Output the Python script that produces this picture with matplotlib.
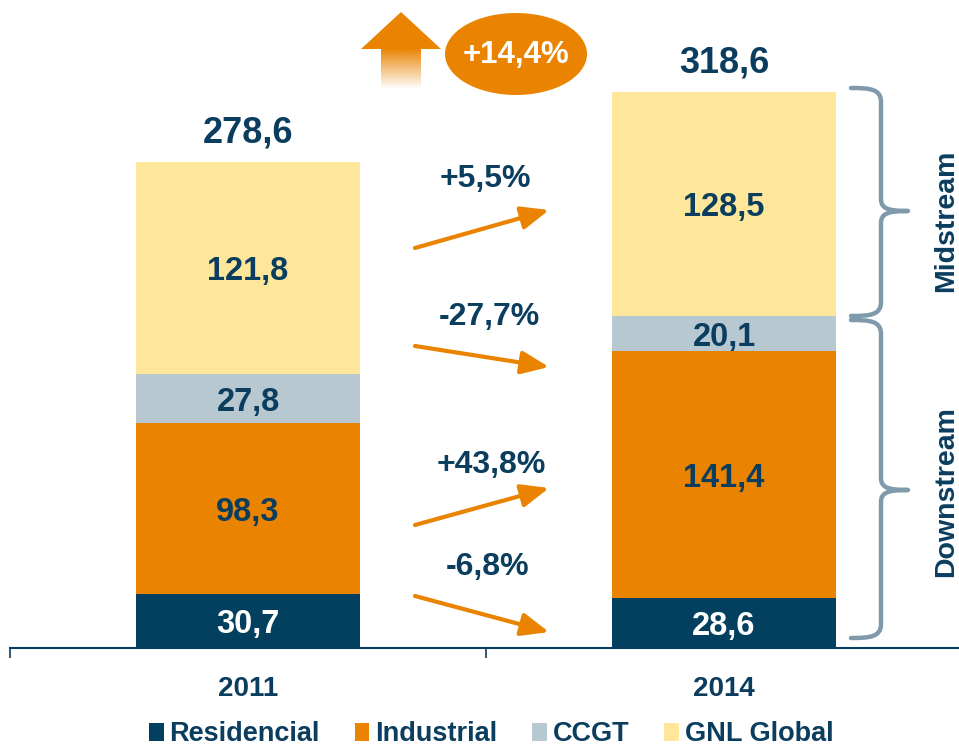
import numpy as np
import matplotlib
matplotlib.use("Agg")
import matplotlib.pyplot as plt
from matplotlib.patches import Ellipse, Polygon, PathPatch
from matplotlib.path import Path

# ---- data ----
years = ["2011", "2014"]
series_names = ["Residencial", "Industrial", "CCGT", "GNL Global"]
residencial = [30.7, 28.6]
industrial = [98.3, 141.4]
ccgt = [27.8, 20.1]
gnl_global = [121.8, 128.5]
group_labels = ["Midstream", "Downstream"]

NAVY = "#0B3D5F"
BAR_NAVY = "#03405F"
ORANGE = "#E98300"
GREY = "#B8C8D0"
YELLOW = "#FEE79A"
BRACE = "#7F9AAB"
colors = [BAR_NAVY, ORANGE, GREY, YELLOW]
label_colors = ["white", NAVY, NAVY, NAVY]

plt.rcParams['font.family'] = ['Liberation Sans', 'DejaVu Sans']
plt.rcParams['font.weight'] = 'bold'

W, H = 959, 752
fig = plt.figure(figsize=(W / 100, H / 100), dpi=100)

def fx(px):
    return px / W

def fy(py):
    return 1 - py / H

ax = fig.add_axes([fx(10), fy(648), fx(949), 648 / H])
series = [residencial, industrial, ccgt, gnl_global]
x = np.arange(len(years))
bottom = np.zeros(len(years))
handles = []
for name, vals, c, lc in zip(series_names, series, colors, label_colors):
    vals = np.array(vals)
    b = ax.bar(x, vals, width=0.47, bottom=bottom, color=c, label=name, zorder=2)
    handles.append(b)
    for xi, v, bt in zip(x, vals, bottom):
        ax.annotate(f"{v:.1f}".replace(".", ","), (xi, bt + v / 2),
                    xytext=(0, -8.6), textcoords="offset points",
                    ha="center", va="baseline", color=lc, fontsize=23.5,
                    fontweight="bold", zorder=3)
    bottom = bottom + vals

totals = bottom
for xi, t in zip(x, totals):
    ax.annotate(f"{t:.1f}".replace(".", ","), (xi, t), xytext=(0, 14),
                textcoords="offset points", ha="center", va="baseline",
                color=NAVY, fontsize=26, fontweight="bold")

ax.set_xlim(-0.5, -0.5 + 949 / 476)
ax.set_ylim(0, 648 / 1.745)
for s in ["top", "right", "left"]:
    ax.spines[s].set_visible(False)
ax.spines["bottom"].set_color(NAVY)
ax.spines["bottom"].set_linewidth(1.5)
ax.set_yticks([])
ax.set_xticks(x)
ax.set_xticklabels(years, fontsize=20, fontweight="bold", color=NAVY)
ax.tick_params(axis="x", which="major", length=0, pad=20)
ax.set_xticks([-0.5, 0.5], minor=True)
ax.tick_params(axis="x", which="minor", length=7, width=1.2, color=NAVY, direction="out")
ax.patch.set_alpha(0)

# ---- overlay for decorations (pixel coordinates) ----
ov = fig.add_axes([0, 0, 1, 1], zorder=5)
ov.patch.set_alpha(0)
ov.axis("off")

def pct(a, b):
    v = (b / a - 1) * 100
    return f"{v:+.1f}%".replace(".", ",")

changes = [pct(gnl_global[0], gnl_global[1]), pct(ccgt[0], ccgt[1]),
           pct(industrial[0], industrial[1]), pct(residencial[0], residencial[1])]
arrow_px = [((415, 248), (549, 210)), ((415, 346), (549, 367)),
            ((415, 525), (549, 488)), ((415, 596), (549, 632))]
label_px = [(485, 179), (489, 317), (491, 465), (488, 567)]
for lab, (s, e), (lx, ly) in zip(changes, arrow_px, label_px):
    ov.annotate("", xy=e, xytext=s,
                arrowprops=dict(arrowstyle="-|>,head_length=0.6,head_width=0.25",
                                color=ORANGE, lw=3, mutation_scale=28,
                                shrinkA=0, shrinkB=0))
    ov.text(lx, ly, lab, ha="center", va="center", color=NAVY,
            fontsize=23, fontweight="bold")

# Up arrow with gradient shaft
ov.add_patch(Polygon([(401, 12), (361, 49), (441, 49)], closed=True,
                     facecolor=ORANGE, edgecolor="none"))
n = 100
grad = np.zeros((n, 2, 4))
rgb = matplotlib.colors.to_rgb(ORANGE)
grad[..., 0], grad[..., 1], grad[..., 2] = rgb
grad[..., 3] = np.linspace(1, 0, n)[:, None]
ov.imshow(grad, extent=(381, 421, 89, 48.5), aspect="auto", origin="upper",
          interpolation="bilinear")

total_change = f"{(totals[1] / totals[0] - 1) * 100:+.1f}%".replace(".", ",")
ov.add_patch(Ellipse((516, 54), 142, 82, facecolor=ORANGE, edgecolor="none"))
ov.text(516, 55, total_change, ha="center", va="center", color="white",
        fontsize=22.5, fontweight="bold")

# Braces
def brace(top, bot, mid, xl=851, xs=881, xt=908):
    verts = [(xl, top), (870, top), (xs, top + 1), (xs, top + 14),
             (xs, mid - 12),
             (xs, mid - 2), (889, mid), (xt, mid),
             (889, mid), (xs, mid + 2), (xs, mid + 12),
             (xs, bot - 14),
             (xs, bot - 1), (870, bot), (xl, bot)]
    codes = [Path.MOVETO, Path.CURVE4, Path.CURVE4, Path.CURVE4,
             Path.LINETO,
             Path.CURVE4, Path.CURVE4, Path.CURVE4,
             Path.CURVE4, Path.CURVE4, Path.CURVE4,
             Path.LINETO,
             Path.CURVE4, Path.CURVE4, Path.CURVE4]
    ov.add_patch(PathPatch(Path(verts, codes), facecolor="none",
                           edgecolor=BRACE, lw=3.2, capstyle="round",
                           joinstyle="round"))

brace(88, 316, 211)
brace(320, 638, 490)
ov.text(946, 221, group_labels[0], rotation=90, ha="center", va="center",
        color=NAVY, fontsize=20.5, fontweight="bold")
ov.text(946, 492, group_labels[1], rotation=90, ha="center", va="center",
        color=NAVY, fontsize=20.5, fontweight="bold")

ov.set_xlim(0, W)
ov.set_ylim(H, 0)

fig.legend(handles=handles, labels=series_names, loc="lower center",
           bbox_to_anchor=(0.512, -0.019), ncol=4, frameon=False,
           prop=dict(size=19.5, weight="bold"), labelcolor=NAVY,
           handlelength=0.55, handleheight=0.65, handletextpad=0.2,
           columnspacing=1.3, borderpad=0.2)

fig.savefig("out.png", dpi=100)
